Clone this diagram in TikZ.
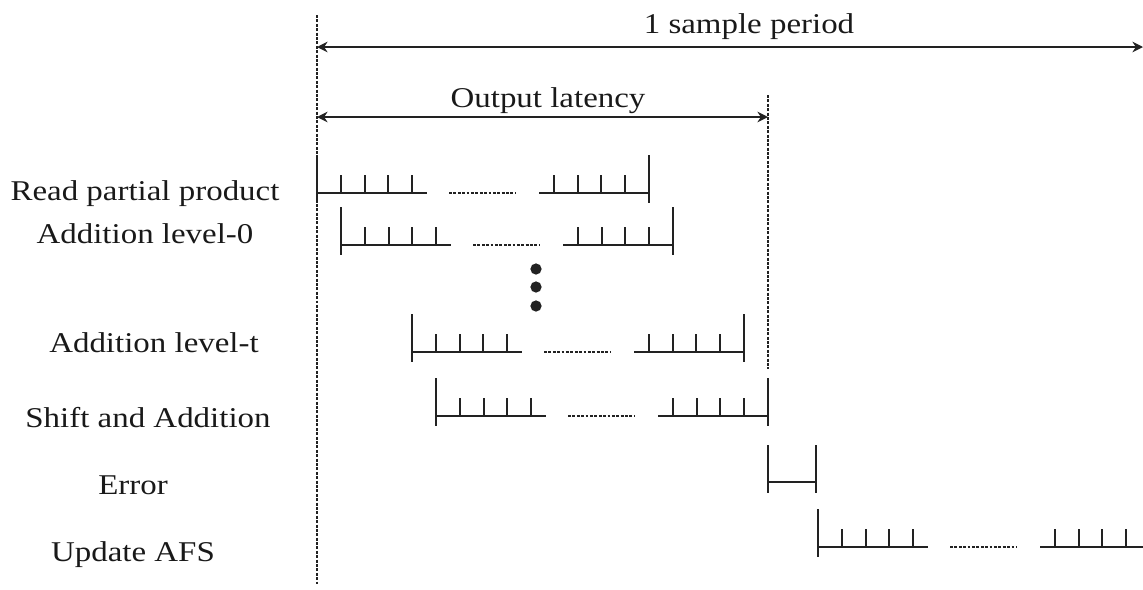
\documentclass[tikz,border=0pt]{standalone}
\usepackage{fontspec}
\setmainfont{Liberation Serif}[FakeStretch=1.15]
\usetikzlibrary{arrows.meta}
\definecolor{ink}{HTML}{222222}
\tikzset{
  bar/.style={line width=1.4pt, draw=ink},
  base/.style={line width=1.0pt, draw=ink},
  tickmark/.style={line width=1.3pt, draw=ink},
  gapline/.style={line width=0.7pt, draw=ink, dash pattern=on 1.6pt off 0.9pt},
  guide/.style={line width=1.2pt, draw=ink, dash pattern=on 1.7pt off 0.8pt},
  span/.style={line width=1.4pt, draw=ink, {Stealth[length=6pt,width=6pt]}-{Stealth[length=6pt,width=6pt]}},
  thinspan/.style={line width=1.0pt, draw=ink, {Stealth[length=6pt,width=6pt]}-{Stealth[length=6pt,width=6pt]}},
  lbl/.style={font=\fontsize{16.3}{19}\selectfont, text=black!90, inner sep=0pt, anchor=base},
  dotmark/.style={circle, fill=ink, inner sep=0pt, minimum size=6.4pt},
}
\newcommand{\seqrow}[2]{%
  \draw[bar] (#1,#2-38) -- (#1,#2+10);
  \draw[base] (#1,#2) -- (#1+110,#2);
  \foreach \d in {24,48,71,95} \draw[tickmark] (#1+\d,#2) -- (#1+\d,#2-18);
  \draw[gapline] (#1+132,#2) -- (#1+199,#2);
  \draw[base] (#1+222,#2) -- (#1+332,#2);
  \foreach \d in {237,261,284,308} \draw[tickmark] (#1+\d,#2) -- (#1+\d,#2-18);
  \draw[bar] (#1+332,#2-38) -- (#1+332,#2+10);
}
\begin{document}
\begin{tikzpicture}[x=0.02cm, y=-0.02cm]
\useasboundingbox (0,0) rectangle (1143,589);
\clip (0,0) rectangle (1143,589);
% guide lines
\coordinate (g0a) at (317,15);
\coordinate (g0b) at (317,584);
\coordinate (g1a) at (768,95);
\coordinate (g1b) at (768,369);
\draw[guide] (g0a) -- (g0b);
\draw[guide] (g1a) -- (g1b);
% spans
\coordinate (sp0) at (317,47);
\coordinate (sp1) at (1143,47);
\draw[span] (sp0) -- (sp1);
\node[lbl] (splbl) at (749,33) {1 sample period};
\coordinate (ol0) at (317,117);
\coordinate (ol1) at (768,117);
\draw[thinspan] (ol0) -- (ol1);
\node[lbl] (ollbl) at (548,107) {Output latency};
% labels
\node[lbl] (rpp) at (145,200) {Read partial product};
\node[lbl] (al0) at (145,243) {Addition level-0};
\node[lbl] (alt) at (154,352) {Addition level-t};
\node[lbl] (saa) at (148,427) {Shift and Addition};
\node[lbl] (err) at (133,494) {Error};
\node[lbl] (afs) at (133,561) {Update AFS};
% timing rows
\seqrow{317}{193}
\seqrow{341}{245}
\seqrow{412}{352}
\seqrow{436}{416}
\seqrow{818}{547}
% dots
\node[dotmark] (d1) at (536,269) {};
\node[dotmark] (d2) at (536,287) {};
\node[dotmark] (d3) at (536,306) {};
% error
\draw[bar] (768,445) -- (768,493);
\draw[bar] (816,445) -- (816,493);
\draw[bar] (768,482) -- (816,482);
\end{tikzpicture}
\end{document}
